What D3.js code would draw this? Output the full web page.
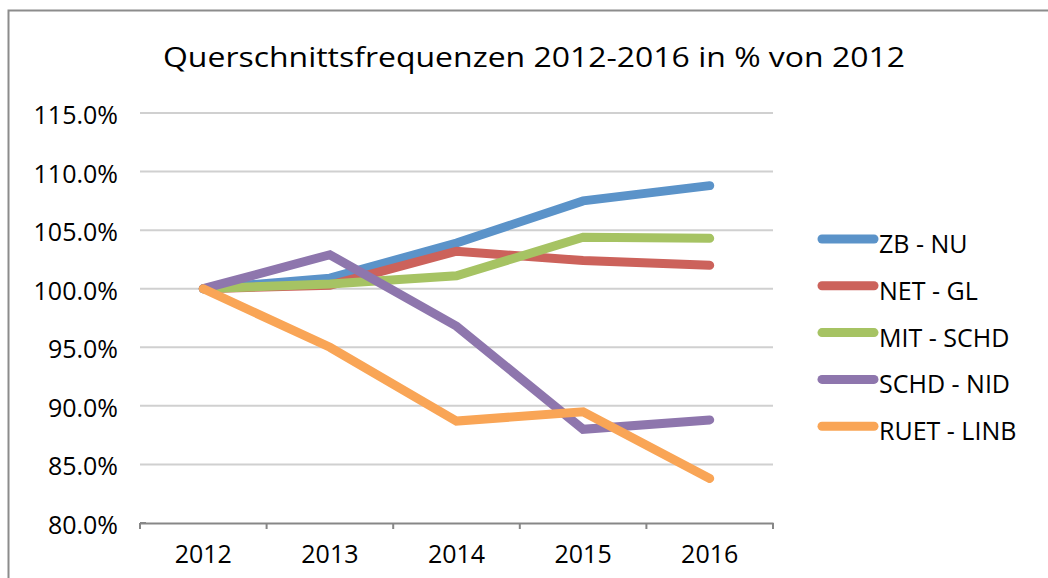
<!DOCTYPE html>
<html>
<head>
<meta charset="utf-8">
<script src="https://cdn.jsdelivr.net/npm/d3@7"></script>
<style>
  body { margin: 0; background: #fff; }
  text { font-family: "Open Sans", "Noto Sans", sans-serif; fill: #000; }
</style>
</head>
<body>
<script>
// chart data
var years = ["2012", "2013", "2014", "2015", "2016"];
var seriesNames = ["ZB - NU", "NET - GL", "MIT - SCHD", "SCHD - NID", "RUET - LINB"];
var zbNu = [100.0, 100.9, 103.9, 107.5, 108.8];
var netGl = [100.0, 100.3, 103.2, 102.4, 102.0];
var mitSchd = [100.0, 100.4, 101.1, 104.4, 104.3];
var schdNid = [100.0, 102.9, 96.8, 88.0, 88.8];
var ruetLinb = [100.0, 95.0, 88.7, 89.5, 83.8];
var yTicks = [80, 85, 90, 95, 100, 105, 110, 115];
var colors = ["#5b93c9", "#cc625b", "#a6c363", "#8e76ad", "#f9a556"];

var allSeries = [zbNu, netGl, mitSchd, schdNid, ruetLinb];

var w = 1048, h = 578;

var svg = d3.select("body").append("svg")
    .attr("width", w)
    .attr("height", h);

// outer frame
svg.append("rect")
    .attr("x", 8.5).attr("y", 10.5)
    .attr("width", w + 20).attr("height", h + 20)
    .attr("fill", "none")
    .attr("stroke", "#8c8c8c")
    .attr("stroke-width", 2);

// title
svg.append("text")
    .attr("x", 534)
    .attr("y", 67)
    .attr("text-anchor", "middle")
    .attr("font-size", 28)
    .attr("textLength", 742)
    .attr("lengthAdjust", "spacingAndGlyphs")
    .text("Querschnittsfrequenzen 2012-2016 in % von 2012");

//scales
var x = d3.scaleBand()
    .domain(years)
    .range([140, 773]);

var y = d3.scaleLinear()
    .domain([80, 115])
    .range([523, 113]);

// gridlines
svg.append("g")
    .selectAll("line")
    .data(yTicks.filter(function(d) { return d > 80; }))
    .enter().append("line")
    .attr("x1", 140).attr("x2", 773)
    .attr("y1", function(d) { return y(d); })
    .attr("y2", function(d) { return y(d); })
    .attr("stroke", "#d0d0d0")
    .attr("stroke-width", 2);

// y labels
svg.append("g")
    .selectAll("text")
    .data(yTicks)
    .enter().append("text")
    .attr("x", 118)
    .attr("y", function(d) { return y(d) + 11; })
    .attr("text-anchor", "end")
    .attr("font-size", 25)
    .text(function(d) { return d.toFixed(1) + "%"; });

// x axis
var xAxis = svg.append("g")
    .attr("transform", "translate(0," + y(80) + ")")
    .call(d3.axisBottom(x).tickSize(0).tickPadding(22));
xAxis.select(".domain").attr("stroke", "#878787").attr("stroke-width", 2);
xAxis.selectAll("text")
    .attr("font-size", 25)
    .attr("font-family", "'Open Sans', 'Noto Sans', sans-serif")
    .attr("fill", "#000");

// band boundary ticks
var bounds = years.map(function(d) { return x(d); }).concat([x.range()[1]]);
xAxis.selectAll(".bound")
    .data(bounds)
    .enter().append("line")
    .attr("class", "bound")
    .attr("x1", function(d) { return d; })
    .attr("x2", function(d) { return d; })
    .attr("y1", 0).attr("y2", 6)
    .attr("stroke", "#878787")
    .attr("stroke-width", 2);
svg.append("line")
    .attr("x1", 140).attr("x2", 146)
    .attr("y1", y(80)).attr("y2", y(80))
    .attr("stroke", "#878787").attr("stroke-width", 2);

// lines
var line = d3.line()
    .x(function(d, i) { return x(years[i]) + x.bandwidth() / 2; })
    .y(function(d) { return y(d); });

svg.append("g")
    .selectAll("path")
    .data(allSeries)
    .enter().append("path")
    .attr("d", line)
    .attr("fill", "none")
    .attr("stroke", function(d, i) { return colors[i]; })
    .attr("stroke-width", 9)
    .attr("stroke-linecap", "round")
    .attr("stroke-linejoin", "miter");

// legend
var legend = svg.append("g")
    .selectAll("g")
    .data(seriesNames)
    .enter().append("g")
    .attr("transform", function(d, i) { return "translate(0," + (239 + i * 46.8) + ")"; });

legend.append("line")
    .attr("x1", 822).attr("x2", 874)
    .attr("y1", 0).attr("y2", 0)
    .attr("stroke", function(d, i) { return colors[i]; })
    .attr("stroke-width", 9)
    .attr("stroke-linecap", "round");

legend.append("text")
    .attr("x", 879)
    .attr("y", 14)
    .attr("font-size", 25)
    .text(function(d) { return d; });
</script>
</body>
</html>
